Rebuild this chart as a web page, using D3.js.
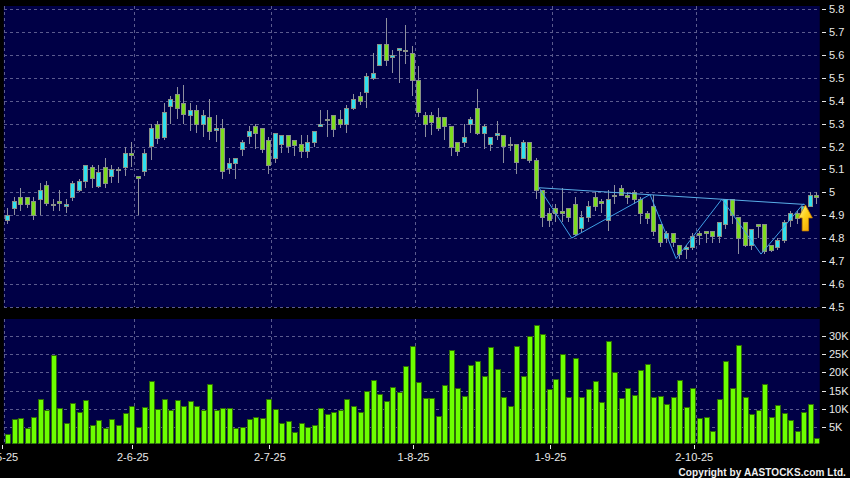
<!DOCTYPE html>
<html>
<head>
<meta charset="utf-8">
<script src="https://cdn.jsdelivr.net/npm/d3@7"></script>
<style>
  body { margin: 0; background: #000; }
  svg { display: block; font-family: Arial, "Liberation Sans", sans-serif; }
</style>
</head>
<body>
<div id="chart"></div>
<script>
// daily candles, index 1 = first trading day shown (2 May 2025)
var opens = [
  4.88,4.93,4.98,4.98,4.96,4.97,5.03,4.95,4.96,4.94, 4.98,5.01,5.05,5.11,5.03,5.11,5.07,5.10,5.11,5.17,
  5.07,5.09,5.20,5.30,5.24,5.38,5.43,5.39,5.34,5.36, 5.30,5.33,5.27,5.28,5.11,5.13,5.19,5.25,5.29,5.28,
  5.23,5.15,5.21,5.25,5.23,5.21,5.18,5.22,5.29,5.32, 5.34,5.32,5.30,5.37,5.42,5.44,5.50,5.56,5.65,5.59,
  5.62,5.62,5.61,5.49,5.34,5.34,5.33,5.33,5.29,5.22, 5.22,5.30,5.37,5.26,5.21,5.25,5.25,5.21,5.21,5.15,
  5.22,5.14,5.01,4.91,4.93,4.92,4.93,4.95,4.84,4.89, 4.98,4.96,4.88,4.99,5.02,4.99,5.00,4.97,4.91,4.94,
  4.86,4.80,4.82,4.77,4.75,4.76,4.82,4.83,4.83,4.81, 4.86,4.97,4.89,4.87,4.77,4.86,4.86,4.77,4.76,4.79,
  4.88,4.91,4.91,4.94,4.99
];
var highs = [
  4.93,4.98,5.02,4.98,4.98,5.04,5.05,4.97,5.01,4.97, 5.05,5.06,5.12,5.12,5.12,5.15,5.12,5.11,5.20,5.22,
  5.07,5.19,5.30,5.31,5.39,5.42,5.46,5.47,5.39,5.38, 5.36,5.41,5.34,5.32,5.15,5.15,5.23,5.29,5.30,5.28,
  5.24,5.26,5.25,5.25,5.23,5.25,5.25,5.27,5.36,5.36, 5.34,5.36,5.38,5.43,5.44,5.52,5.61,5.65,5.76,5.62,
  5.63,5.73,5.64,5.55,5.35,5.35,5.37,5.33,5.29,5.22, 5.30,5.33,5.45,5.30,5.24,5.31,5.25,5.24,5.21,5.23,
  5.22,5.15,5.01,4.93,4.95,5.02,4.93,4.98,4.92,4.96, 5.00,4.97,5.01,5.03,5.03,5.00,5.01,4.98,4.92,4.99,
  4.86,4.83,4.82,4.77,4.77,4.82,4.83,4.83,4.83,4.87, 4.97,4.97,4.89,4.87,4.84,4.86,4.86,4.77,4.80,4.88,
  4.92,4.92,4.94,5.00,5.00
];
var lows = [
  4.86,4.90,4.92,4.93,4.88,4.90,4.94,4.92,4.92,4.91, 4.96,5.00,5.02,5.02,5.02,5.02,5.04,5.04,5.07,5.11,
  4.90,5.07,5.14,5.21,5.23,5.30,5.32,5.30,5.27,5.26, 5.24,5.23,5.22,5.06,5.08,5.06,5.16,5.21,5.19,5.17,
  5.08,5.13,5.17,5.17,5.16,5.15,5.15,5.20,5.29,5.24, 5.24,5.28,5.26,5.36,5.38,5.37,5.49,5.55,5.55,5.52,
  5.48,5.56,5.42,5.33,5.24,5.25,5.27,5.23,5.16,5.16, 5.20,5.26,5.25,5.19,5.18,5.23,5.13,5.18,5.08,5.15,
  5.13,4.97,4.85,4.85,4.87,4.87,4.87,4.81,4.82,4.87, 4.92,4.91,4.83,4.95,4.99,4.95,4.95,4.86,4.86,4.81,
  4.76,4.78,4.76,4.71,4.71,4.75,4.77,4.78,4.78,4.78, 4.84,4.86,4.73,4.76,4.75,4.80,4.73,4.74,4.75,4.78,
  4.85,4.86,4.89,4.94,4.95
];
var closes = [
  4.90,4.96,4.95,4.95,4.90,5.01,4.95,4.95,4.95,4.95, 5.04,5.05,5.12,5.06,5.09,5.04,5.10,5.10,5.17,5.16,
  5.06,5.17,5.28,5.24,5.35,5.41,5.37,5.34,5.36,5.30, 5.34,5.27,5.28,5.09,5.13,5.15,5.22,5.27,5.26,5.19,
  5.12,5.26,5.25,5.20,5.21,5.18,5.22,5.27,5.30,5.32, 5.28,5.30,5.37,5.41,5.40,5.51,5.52,5.65,5.58,5.60,
  5.63,5.62,5.49,5.35,5.30,5.31,5.28,5.29,5.20,5.18, 5.24,5.32,5.26,5.29,5.24,5.26,5.20,5.21,5.13,5.22,
  5.14,5.01,4.89,4.88,4.91,4.91,4.89,4.82,4.89,4.94, 4.94,4.95,4.97,4.99,4.99,4.98,4.97,4.91,4.89,4.83,
  4.78,4.82,4.78,4.73,4.76,4.81,4.81,4.82,4.81,4.87, 4.97,4.90,4.80,4.77,4.84,4.85,4.74,4.75,4.79,4.87,
  4.91,4.89,4.94,4.99,4.98
];
var volumes = [
  3200,7300,7400,4700,7700,12700,9700,24700,10200,6200, 11500,9200,12400,5500,6900,4700,7300,5500,8800,10700,
  5200,10500,17700,10100,12600,9600,12400,10700,12100,10700, 9800,16900,9600,10200,10200,4800,5000,7200,7800,7600,
  12600,10100,6200,6600,3600,6300,5200,5500,10300,8600, 9100,9600,12800,10700,9200,14900,17900,14000,12200,15900,
  14600,21800,27100,17400,13000,13100,8100,16500,26100,15700, 13500,22100,23200,19100,27000,20800,13200,10900,27200,19100,
  29800,32800,30600,15400,18100,25100,13400,23800,13300,15400, 17500,11900,28500,20000,13000,15800,13800,20600,22200,13200,
  13500,11300,13400,18000,10600,15800,7600,7900,4000,12800, 23000,15800,27400,13200,8600,9600,16900,7700,11100,8900,
  7000,4000,9300,11300,2000
];

var monthStart = [1, 21, 42, 64, 85, 107];
var monthLabels = ["2-5-25", "2-6-25", "2-7-25", "1-8-25", "1-9-25", "2-10-25"];

var priceTicks = [4.5, 4.6, 4.7, 4.8, 4.9, 5.0, 5.1, 5.2, 5.3, 5.4, 5.5, 5.6, 5.7, 5.8];
var priceTickLabels = ["4.5","4.6","4.7","4.8","4.9","5","5.1","5.2","5.3","5.4","5.5","5.6","5.7","5.8"];
var volumeTicks = [5000, 10000, 15000, 20000, 25000, 30000];
var volumeTickLabels = ["5K", "10K", "15K", "20K", "25K", "30K"];

// drawn pattern (zigzag + neckline) in candle index / price
var zigzagIdx = [82.5, 87.5, 99.5, 103.5, 110.5, 116.5, 123];
var zigzagPrice = [5.02, 4.80, 4.99, 4.71, 4.97, 4.73, 4.95];
var necklineIdx = [82.5, 123.2];
var necklinePrice = [5.02, 4.947];
var arrowIdx = 123.3, arrowPrice = 4.945;

var candles = opens.map(function(o, k) {
  return { i: k + 1, o: o, h: highs[k], l: lows[k], c: closes[k], v: volumes[k] };
});

var svgWidth = 850, svgHeight = 478;
var left = 3.74, right = 819.74;
var price = { top: 6, bottom: 307 };
var vol = { top: 319, bottom: 443.5 };

var svg = d3.select("#chart").append("svg")
  .attr("width", svgWidth)
  .attr("height", svgHeight);

svg.append("rect").attr("width", svgWidth).attr("height", svgHeight).attr("fill", "#000");

var x = d3.scaleLinear().domain([0.5, candles.length + 0.5]).range([left, right]);
var y = d3.scaleLinear().domain([4.5, 5.8]).range([306.7, 9.3]);
var yv = d3.scaleLinear().domain([0, 30000]).range([445.6, 335.7]);

var defs = svg.append("defs");
defs.append("clipPath").attr("id", "clipP").append("rect")
  .attr("x", left).attr("y", price.top).attr("width", right - left).attr("height", price.bottom - price.top);
defs.append("clipPath").attr("id", "clipV").append("rect")
  .attr("x", left).attr("y", vol.top).attr("width", right - left).attr("height", vol.bottom - vol.top);
var grad = defs.append("linearGradient").attr("id", "arrowGrad")
  .attr("x1", "0").attr("y1", "0").attr("x2", "1").attr("y2", "1");
grad.append("stop").attr("offset", "0%").attr("stop-color", "#fff6b0");
grad.append("stop").attr("offset", "45%").attr("stop-color", "#ffd21a");
grad.append("stop").attr("offset", "100%").attr("stop-color", "#f09a00");

var navy = "#000046", gridCol = "#5b5b8e";

// panels
svg.append("rect").attr("x", left).attr("y", price.top)
  .attr("width", right - left).attr("height", price.bottom - price.top).attr("fill", navy);
svg.append("rect").attr("x", left).attr("y", vol.top)
  .attr("width", right - left).attr("height", vol.bottom - vol.top).attr("fill", navy);

// grid
var grid = svg.append("g").attr("stroke", gridCol).attr("stroke-dasharray", "3,3")
  .attr("shape-rendering", "crispEdges");
grid.selectAll(".hp").data(priceTicks).enter().append("line")
  .attr("x1", left).attr("x2", right)
  .attr("y1", d => Math.round(y(d)) + 0.5).attr("y2", d => Math.round(y(d)) + 0.5);
grid.selectAll(".hv").data(volumeTicks).enter().append("line")
  .attr("x1", left).attr("x2", right)
  .attr("y1", d => Math.round(yv(d)) + 0.5).attr("y2", d => Math.round(yv(d)) + 0.5);
grid.selectAll(".vp").data(monthStart).enter().append("line")
  .attr("x1", d => Math.round(x(d - 0.5)) + 0.5).attr("x2", d => Math.round(x(d - 0.5)) + 0.5)
  .attr("y1", price.top).attr("y2", price.bottom);
grid.selectAll(".vv").data(monthStart).enter().append("line")
  .attr("x1", d => Math.round(x(d - 0.5)) + 0.5).attr("x2", d => Math.round(x(d - 0.5)) + 0.5)
  .attr("y1", vol.top).attr("y2", vol.bottom);

// candles
var cg = svg.append("g").attr("clip-path", "url(#clipP)").attr("shape-rendering", "crispEdges");
var cx = d => Math.round(x(d.i)) + 0.5;
cg.selectAll(".wick").data(candles).enter().append("line")
  .attr("x1", cx).attr("x2", cx)
  .attr("y1", d => y(d.h)).attr("y2", d => y(d.l))
  .attr("stroke", "#8d8f9e").attr("stroke-width", 1);
cg.selectAll(".body").data(candles).enter().append("rect")
  .attr("x", d => cx(d) - 2)
  .attr("width", 4)
  .attr("y", d => Math.round(y(Math.max(d.o, d.c))) + 0.5)
  .attr("height", d => Math.max(1, Math.round(Math.abs(y(d.o) - y(d.c)))))
  .attr("fill", d => d.c > d.o ? "#2ee0ef" : d.c < d.o ? "#7ddc1f" : "#9aa59a")
  .attr("stroke", "#8a9288").attr("stroke-width", 1);

// volume bars
var vg = svg.append("g").attr("clip-path", "url(#clipV)").attr("shape-rendering", "crispEdges");
vg.selectAll(".vbar").data(candles).enter().append("rect")
  .attr("x", d => cx(d) - 2.5)
  .attr("width", 5)
  .attr("y", d => Math.round(yv(d.v)) + 0.5)
  .attr("height", d => yv(0) - yv(d.v))
  .attr("fill", "#6cff00")
  .attr("stroke", "#2e6a08").attr("stroke-width", 1);

// pattern lines
var line = d3.line().x(d => x(d[0])).y(d => y(d[1]));
var pg = svg.append("g").attr("clip-path", "url(#clipP)");
pg.append("path")
  .datum(necklineIdx.map((v, k) => [v, necklinePrice[k]]))
  .attr("d", line).attr("fill", "none").attr("stroke", "#5aaee8").attr("stroke-width", 1);
pg.append("path")
  .datum(zigzagIdx.map((v, k) => [v, zigzagPrice[k]]))
  .attr("d", line).attr("fill", "none").attr("stroke", "#3f9fe6").attr("stroke-width", 1);

// breakout arrow
var ax = x(arrowIdx), ay = y(arrowPrice);
var arrowPts = [[0, 0], [7, 13], [3.2, 13], [3.2, 26], [-3.2, 26], [-3.2, 13], [-7, 13]];
pg.append("path")
  .attr("d", "M" + arrowPts.map(p => (ax + p[0]) + "," + (ay + p[1])).join("L") + "Z")
  .attr("fill", "url(#arrowGrad)").attr("stroke", "#c98200").attr("stroke-width", 0.8);

// right axis labels
var axisText = "#e8e8e8";
var pa = svg.append("g");
pa.selectAll("line").data(priceTicks).enter().append("line")
  .attr("x1", 822).attr("x2", 826)
  .attr("y1", d => Math.round(y(d)) + 0.5).attr("y2", d => Math.round(y(d)) + 0.5)
  .attr("stroke", axisText);
pa.selectAll("text").data(priceTicks).enter().append("text")
  .attr("x", 829).attr("y", d => y(d)).attr("dy", "0.36em")
  .attr("fill", axisText).attr("font-size", "11px")
  .text((d, k) => priceTickLabels[k]);

var va = svg.append("g");
va.selectAll("line").data(volumeTicks).enter().append("line")
  .attr("x1", 822).attr("x2", 826)
  .attr("y1", d => Math.round(yv(d)) + 0.5).attr("y2", d => Math.round(yv(d)) + 0.5)
  .attr("stroke", axisText);
va.selectAll("text").data(volumeTicks).enter().append("text")
  .attr("x", 829).attr("y", d => yv(d)).attr("dy", "0.36em")
  .attr("fill", axisText).attr("font-size", "11px")
  .text((d, k) => volumeTickLabels[k]);

// bottom date labels
var xa = svg.append("g");
xa.selectAll("line").data(monthStart).enter().append("line")
  .attr("x1", d => Math.round(x(d - 0.5)) - 1.5).attr("x2", d => Math.round(x(d - 0.5)) - 1.5)
  .attr("y1", 445).attr("y2", 449)
  .attr("stroke", axisText);
xa.selectAll("text").data(monthStart).enter().append("text")
  .attr("x", d => x(d - 0.5) - 1.5).attr("y", 461)
  .attr("text-anchor", "middle")
  .attr("fill", axisText).attr("font-size", "11px")
  .text((d, k) => monthLabels[k]);

svg.append("text")
  .attr("x", 846).attr("y", 476)
  .attr("text-anchor", "end")
  .attr("fill", "#f0f0f0").attr("font-size", "10px").attr("font-weight", "bold")
  .attr("letter-spacing", "0.1px")
  .text("Copyright by AASTOCKS.com Ltd.");
</script>
</body>
</html>
